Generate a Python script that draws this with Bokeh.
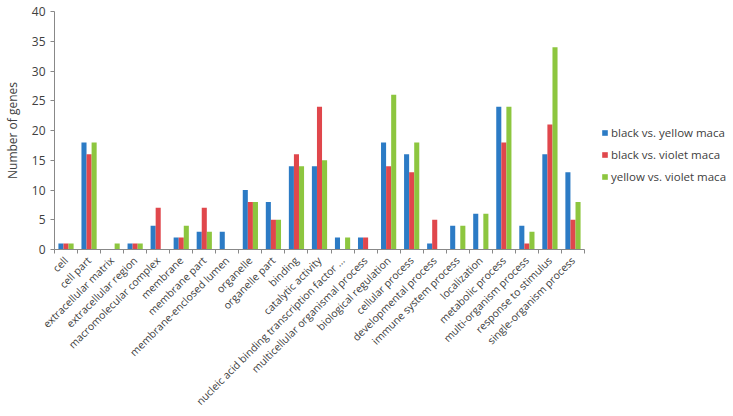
import math
from bokeh.plotting import figure
from bokeh.models import Range1d, FixedTicker, Legend, LegendItem, ColumnDataSource
from bokeh.embed import file_html
from bokeh.resources import INLINE

categories = [
    "cell", "cell part", "extracellular matrix", "extracellular region",
    "macromolecular complex", "membrane", "membrane part", "membrane-enclosed lumen",
    "organelle", "organelle part", "binding", "catalytic activity",
    "nucleic acid binding transcription factor ...", "multicellular organismal process",
    "biological regulation", "cellular process", "developmental process",
    "immune system process", "localization", "metabolic process",
    "multi-organism process", "response to stimulus", "single-organism process",
]
black_vs_yellow = [1, 18, 0, 1, 4, 2, 3, 3, 10, 8, 14, 14, 2, 2, 18, 16, 1, 4, 6, 24, 4, 16, 13]
black_vs_violet = [1, 16, 0, 1, 7, 2, 7, 0, 8, 5, 16, 24, 0, 2, 14, 13, 5, 0, 0, 18, 1, 21, 5]
yellow_vs_violet = [1, 18, 1, 1, 0, 4, 3, 0, 8, 5, 14, 15, 2, 0, 26, 18, 0, 4, 6, 24, 3, 34, 8]
series_names = ["black vs. yellow maca", "black vs. violet maca", "yellow vs. violet maca"]
colors = ["#2C7BC5", "#E0474C", "#8DC63F"]
y_ticks = [0, 5, 10, 15, 20, 25, 30, 35, 40]

n = len(categories)
centers = [i + 0.5 for i in range(n)]

FONT = "Open Sans"
TXT = "#404040"

p = figure(frame_width=530, frame_height=238, output_backend="svg", toolbar_location=None,
           x_range=Range1d(0, n), y_range=Range1d(0, 40),
           min_border_left=50, min_border_right=0, min_border_top=11, min_border_bottom=140)
p.outline_line_color = None
p.xgrid.grid_line_color = None
p.ygrid.grid_line_color = None
p.background_fill_color = "white"
p.border_fill_color = "white"

bw = 0.22
offsets = [-bw, 0.0, bw]
renderers = []
for vals, off, col in zip([black_vs_yellow, black_vs_violet, yellow_vs_violet], offsets, colors):
    src = ColumnDataSource(dict(x=[c + off for c in centers], top=vals))
    r = p.vbar(x="x", top="top", width=bw, source=src, fill_color=col, line_color=None)
    renderers.append(r)

# x axis
p.xaxis.ticker = FixedTicker(ticks=centers, minor_ticks=list(range(n + 1)))
p.xaxis.major_label_overrides = {c: name for c, name in zip(centers, categories)}
p.xaxis.major_label_orientation = math.pi / 4
p.xaxis.major_tick_line_color = None
p.xaxis.minor_tick_line_color = "#888888"
p.xaxis.minor_tick_in = 0
p.xaxis.minor_tick_out = 4
p.xaxis.axis_line_color = "#888888"
p.xaxis.major_label_text_font = FONT
p.xaxis.major_label_text_font_size = "10.5px"
p.xaxis.major_label_text_color = TXT
p.xaxis.major_label_standoff = 3

# y axis
p.yaxis.ticker = FixedTicker(ticks=y_ticks)
p.yaxis.axis_line_color = "#888888"
p.yaxis.major_tick_line_color = "#888888"
p.yaxis.major_tick_in = 0
p.yaxis.major_tick_out = 4
p.yaxis.minor_tick_line_color = None
p.yaxis.major_label_text_font = FONT
p.yaxis.major_label_text_font_size = "12px"
p.yaxis.major_label_text_color = TXT
p.yaxis.major_label_standoff = 5
p.yaxis.axis_label = "Number of genes"
p.yaxis.axis_label_text_font = FONT
p.yaxis.axis_label_text_font_size = "12px"
p.yaxis.axis_label_text_font_style = "normal"
p.yaxis.axis_label_text_color = TXT
p.yaxis.axis_label_standoff = 8

legend = Legend(items=[LegendItem(label=nm, renderers=[r]) for nm, r in zip(series_names, renderers)],
                location=(17, 65), glyph_width=7, glyph_height=7, label_height=14,
                spacing=7, label_text_font=FONT, label_text_font_size="11.5px",
                label_text_color=TXT, border_line_color=None,
                background_fill_alpha=0, padding=0, margin=0, label_standoff=3)
p.add_layout(legend, "right")

open("out.html", "w").write(file_html(p, INLINE))
